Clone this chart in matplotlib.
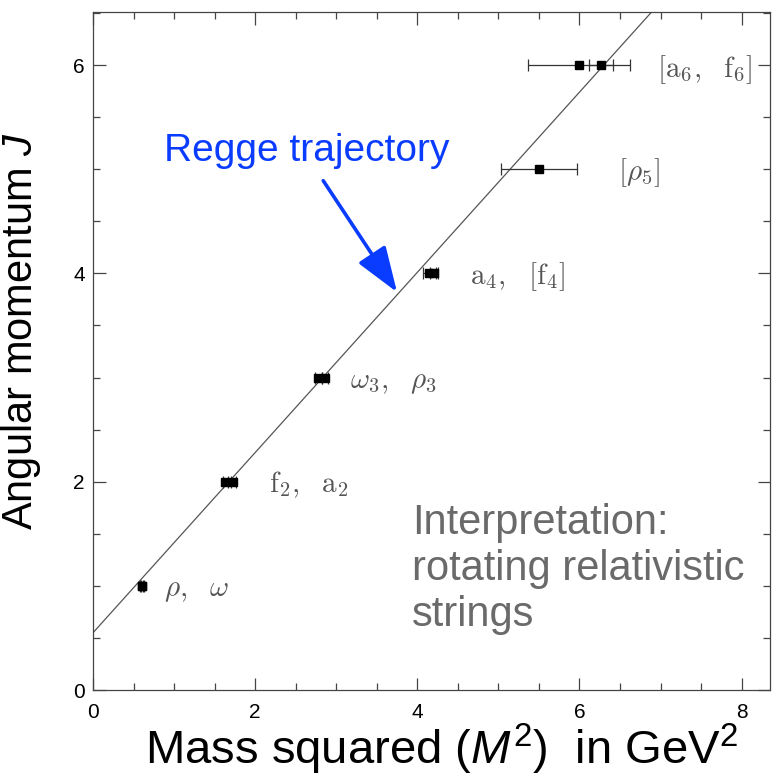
import matplotlib.pyplot as plt
from matplotlib.ticker import MultipleLocator, FixedLocator

plt.rcParams['font.family'] = ['Liberation Sans', 'DejaVu Sans']
plt.rcParams['xtick.labelsize'] = 15
plt.rcParams['ytick.labelsize'] = 15
# sans mathtext for the axis labels; the particle labels use cm
plt.rcParams['mathtext.fontset'] = 'custom'
plt.rcParams['mathtext.rm'] = 'Liberation Sans'
plt.rcParams['mathtext.it'] = 'Liberation Sans:italic'

# meson states: M^2 (GeV^2), spin J, horizontal error
m2 = [0.60, 0.61, 1.63, 1.73, 2.78, 2.86, 4.15, 4.21, 5.50, 5.99, 6.27]
spin = [1, 1, 2, 2, 3, 3, 4, 4, 5, 6, 6]
m2_err = [0.02, 0.02, 0.03, 0.03, 0.04, 0.04, 0.08, 0.05, 0.47, 0.63, 0.15]

# label for each spin family, placed to the right of the points
family_labels = [r'$\rho,\ \ \omega$', r'$\mathrm{f}_2,\ \ \mathrm{a}_2$',
                 r'$\omega_3,\ \ \rho_3$', r'$\mathrm{a}_4,\ \ [\mathrm{f}_4]$',
                 r'$[\rho_5]$', r'$[\mathrm{a}_6,\ \ \mathrm{f}_6]$']
label_x = [0.88, 2.17, 3.17, 4.65, 6.47, 6.96]
label_j = [0.96, 1.97, 2.96, 3.97, 4.97, 5.96]

# linear Regge trajectory J = alpha0 + alpha' M^2
alpha0 = 0.55
alpha_slope = 0.865

fig = plt.figure(figsize=(7.79, 7.79), dpi=100)
ax = fig.add_axes([0.1194, 0.1142, 0.8690, 0.8704])

xs = [0, 8.35]
ax.plot(xs, [alpha0 + alpha_slope * x for x in xs], color='#555555', lw=0.9)

ax.errorbar(m2, spin, xerr=m2_err, fmt='s', color='black', ms=6,
            ecolor='#333333', elinewidth=0.9, capsize=4, capthick=0.9)

for txt, x, j in zip(family_labels, label_x, label_j):
    ax.text(x, j, txt, fontsize=21, color='#555555', ha='left', va='center',
            math_fontfamily='cm')

ax.annotate('', xy=(3.75, 3.82), xytext=(2.84, 4.89),
            arrowprops=dict(arrowstyle='-|>,head_length=2.8,head_width=1.0',
                            color='#0a3cff', lw=2.6, shrinkA=0, shrinkB=0))
ax.text(2.64, 5.18, 'Regge trajectory', color='#0a3cff', fontsize=28,
        ha='center', va='center')

ax.text(3.93, 1.80, 'Interpretation:\nrotating relativistic\nstrings',
        color='#6a6a6a', fontsize=30, ha='left', va='top', linespacing=1.2)

ax.set_xlim(0, 8.35)
ax.set_ylim(0, 6.51)
ax.xaxis.set_major_locator(FixedLocator([0, 2, 4, 6, 8]))
ax.xaxis.set_minor_locator(MultipleLocator(0.5))
ax.yaxis.set_major_locator(FixedLocator([0, 2, 4, 6]))
ax.yaxis.set_minor_locator(MultipleLocator(0.5))
ax.tick_params(which='both', direction='in', top=True, right=True,
               color='#444444', width=0.9)
ax.tick_params(which='major', length=9)
ax.tick_params(axis='x', which='major', pad=9)
ax.tick_params(axis='y', which='major', pad=6)
ax.tick_params(which='minor', length=5)
for s in ax.spines.values():
    s.set_color('#444444')
    s.set_linewidth(0.9)

ax.set_xlabel(r'Mass squared ($M^2$)  in GeV$^2$', fontsize=34)
ax.xaxis.set_label_coords(0.515, -0.047, transform=ax.transAxes)
ax.xaxis.label.set_va('top')
ax.set_ylabel(r'Angular momentum $J$', fontsize=30)
ax.yaxis.set_label_coords(-0.074, 0.53, transform=ax.transAxes)

fig.savefig('out.png', dpi=100)
